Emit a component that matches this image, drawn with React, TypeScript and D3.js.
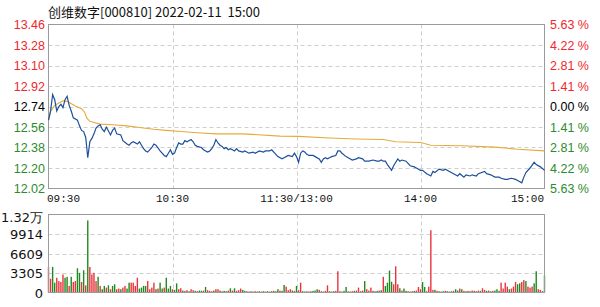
import React from "react";
import * as d3 from "d3";

const title = "创维数字[000810] 2022-02-11  15:00";
const prevClose = 12.74;
const priceTicks = [13.46, 13.28, 13.1, 12.92, 12.74, 12.56, 12.38, 12.2, 12.02];
const pctTicks = ["5.63 %", "4.22 %", "2.81 %", "1.41 %", "0.00 %", "1.41 %", "2.81 %", "4.22 %", "5.63 %"];
const volTicks = ["1.32万", "9914", "6609", "3305", "0"];
const volTickValues = [13219, 9914, 6609, 3305, 0];
const timeLabels = ["09:30", "10:30", "11:30/13:00", "14:00", "15:00"];
const timeLabelMinutes = [0, 60, 120, 180, 240];

// [minute, price]
const pricePts: [number, number][] = [
  [0, 12.62], [1, 12.7], [2, 12.845], [3, 12.8], [4, 12.7], [5, 12.74], [6, 12.76], [7, 12.73], [8, 12.8], [9, 12.83],
  [10, 12.75], [11, 12.7], [12, 12.64], [14, 12.62], [15, 12.57], [16, 12.53], [17, 12.52], [18, 12.47], [19, 12.29], [20, 12.43],
  [21, 12.46], [22, 12.5], [23, 12.55], [24, 12.57], [25, 12.58], [26, 12.54], [27, 12.52], [28, 12.56], [30, 12.49], [31, 12.53],
  [32, 12.55], [33, 12.5], [35, 12.49], [36, 12.44], [38, 12.41], [39, 12.4], [40, 12.42], [41, 12.43], [43, 12.41], [44, 12.43],
  [45, 12.4], [46, 12.37], [47, 12.35], [48, 12.34], [50, 12.38], [51, 12.41], [52, 12.4], [54, 12.35], [56, 12.31], [57, 12.3],
  [58, 12.33], [59, 12.36], [60, 12.32], [61, 12.33], [62, 12.38], [63, 12.42], [64, 12.41], [65, 12.41], [66, 12.44], [67, 12.43],
  [69, 12.45], [70, 12.43], [71, 12.4], [72, 12.39], [74, 12.38], [75, 12.36], [76, 12.35], [77, 12.34], [78, 12.35], [79, 12.37],
  [80, 12.4], [81, 12.45], [82, 12.42], [83, 12.4], [84, 12.39], [85, 12.37], [86, 12.38], [87, 12.36], [88, 12.37], [89, 12.36],
  [90, 12.35], [91, 12.37], [92, 12.35], [94, 12.34], [95, 12.35], [97, 12.33], [99, 12.34], [100, 12.33], [102, 12.35], [104, 12.34],
  [105, 12.35], [107, 12.35], [108, 12.36], [110, 12.32], [111, 12.3], [113, 12.28], [114, 12.29], [116, 12.31], [118, 12.3], [119, 12.33],
  [120, 12.3], [121, 12.25], [122, 12.33], [123, 12.35], [124, 12.34], [125, 12.32], [126, 12.31], [128, 12.31], [129, 12.3], [131, 12.28],
  [132, 12.25], [133, 12.28], [134, 12.29], [135, 12.28], [136, 12.29], [137, 12.3], [139, 12.31], [140, 12.35], [141, 12.35], [142, 12.33],
  [144, 12.3], [145, 12.29], [147, 12.27], [149, 12.28], [150, 12.29], [152, 12.28], [153, 12.26], [155, 12.26], [157, 12.27], [159, 12.26],
  [160, 12.26], [161, 12.27], [162, 12.26], [163, 12.26], [164, 12.23], [166, 12.18], [167, 12.22], [169, 12.28], [170, 12.26], [171, 12.27],
  [173, 12.26], [175, 12.22], [177, 12.21], [178, 12.2], [180, 12.18], [181, 12.18], [183, 12.15], [185, 12.13], [186, 12.17], [187, 12.16],
  [189, 12.19], [191, 12.18], [192, 12.19], [194, 12.17], [196, 12.15], [198, 12.13], [199, 12.15], [201, 12.12], [202, 12.14], [204, 12.13],
  [205, 12.14], [207, 12.13], [208, 12.15], [211, 12.17], [212, 12.15], [214, 12.14], [216, 12.12], [218, 12.12], [219, 12.11], [221, 12.1],
  [222, 12.1], [224, 12.11], [226, 12.1], [227, 12.09], [229, 12.07], [230, 12.12], [231, 12.16], [233, 12.2], [235, 12.25], [236, 12.23],
  [238, 12.21], [240, 12.18],
];

// [minute, average price]
const avgPts: [number, number][] = [
  [0, 12.62], [1, 12.7], [3, 12.75], [5, 12.77], [7, 12.79], [9, 12.785], [10, 12.775], [13, 12.745], [16, 12.72], [17.5, 12.69],
  [18.5, 12.64], [20, 12.61], [22, 12.6], [25, 12.585], [31, 12.58], [38, 12.57], [44, 12.555], [51, 12.54], [57, 12.53], [64, 12.52],
  [72, 12.51], [81, 12.5], [94, 12.5], [112, 12.48], [121, 12.478], [136, 12.463], [149, 12.454], [162, 12.45], [168, 12.43], [180, 12.424],
  [185, 12.4], [200, 12.395], [216, 12.383], [227, 12.365], [240, 12.35],
];

// volume per minute (0..240)
const volumes = [
  4330, 2330, 4330, 1665, 2500, 1940, 1775, 3050, 2500, 2660,
  1110, 2660, 1775, 1940, 4100, 3330, 1775, 3770, 1200, 12210,
  4330, 3050, 3330, 1940, 2660, 1110, 555, 1110, 830, 1220,
  555, 1110, 1390, 555, 670, 555, 830, 1110, 670, 1665,
  1665, 1665, 1110, 2500, 670, 830, 1110, 1110, 1940, 555,
  830, 1665, 555, 670, 1665, 670, 830, 2500, 670, 1110,
  555, 440, 1550, 555, 720, 330, 280, 390, 220, 555,
  390, 280, 220, 330, 280, 330, 940, 390, 280, 220,
  330, 555, 555, 330, 220, 280, 220, 330, 720, 330,
  720, 280, 390, 670, 440, 280, 220, 170, 220, 170,
  220, 170, 220, 170, 220, 170, 220, 170, 220, 280,
  220, 555, 330, 280, 1280, 1000, 390, 555, 330, 280,
  1110, 390, 1665, 220, 170, 220, 170, 220, 280, 330,
  555, 440, 220, 170, 280, 1220, 220, 170, 220, 280,
  3600, 220, 170, 280, 940, 220, 170, 220, 280, 330,
  830, 220, 330, 1940, 555, 330, 830, 280, 220, 280,
  330, 390, 2660, 1110, 1665, 3720, 1830, 1390, 4440, 1390,
  720, 330, 670, 280, 220, 170, 220, 280, 330, 940,
  555, 1780, 940, 220, 1000, 10545, 440, 440, 280, 220,
  170, 220, 280, 220, 170, 220, 280, 555, 330, 670,
  555, 280, 220, 280, 220, 330, 280, 220, 330, 280,
  720, 440, 280, 330, 220, 280, 330, 555, 280, 1665,
  670, 1665, 1000, 555, 670, 1000, 1780, 1390, 1550, 1780,
  2110, 1940, 1000, 830, 1000, 1550, 3600, 555, 440, 220,
  2885,
];
const volColors =
  "rrggrrrrgg" + "rgrrggrgrg" + "rrrrgrggrg" + "rggrrgrrgg" + "rrrrggggrr" +
  "rrgrggrggg" + "rggrrgrrgr" + "rgrggrgrrr" + "grrgrggrgr" + "grrrggrgrg" +
  "rgrggrgrgr" + "ggrggrrrgr" + "grrggrgrgg" + "grrgrrgrgr" + "rrgggrgrgr" +
  "rgrgrrrgrg" + "rgrggggrrr" + "grggrgrgrr" + "rggrrrrgrg" + "rgrgrgrggr" +
  "grgrgrgrrg" + "rrgrgrgggr" + "rrrgrrrggr" + "rgrrrggrrg" + "g";

const W = 600;
const H = 307;
const L = 48.5;
const R = 544.5;
const pTop = 24.5;
const pBot = 188.5;
const vTop = 214.5;
const vBot = 292.5;

const RED = "#f0282d";
const GREEN = "#2c8c2c";

export default function App() {
  const x = d3.scaleLinear().domain([0, 240]).range([L, R]);
  const y = d3.scaleLinear().domain([12.02, 13.46]).range([pBot, pTop]);
  const yv = d3.scaleLinear().domain([0, 13219]).range([vBot, vTop]);
  const line = d3
    .line<[number, number]>()
    .x((d) => x(d[0]))
    .y((d) => y(d[1]));

  const labelColor = (v: number) =>
    Math.abs(v - prevClose) < 1e-6 ? "#000" : v > prevClose ? RED : GREEN;

  const vGrid = [60, 120, 180];
  const fontNum = "'Liberation Sans', Arial, sans-serif";

  return (
    <svg
      width={W}
      height={H}
      style={{ position: "absolute", left: 0, top: 0, background: "#fff" }}
    >
      <text
        x={48}
        y={16.5}
        fontFamily="'Noto Sans CJK SC', sans-serif"
        fontSize={13}
        fill="#111"
        style={{ whiteSpace: "pre" }}
      >
        {title}
      </text>

      {/* price grid */}
      {priceTicks.slice(1, -1).map((t, i) => (
        <line
          key={"hg" + i}
          x1={L}
          x2={R}
          y1={Math.round(y(t)) + 0.5}
          y2={Math.round(y(t)) + 0.5}
          stroke="#cfcfcf"
          strokeDasharray="4,3"
        />
      ))}
      {vGrid.map((m, i) => (
        <line
          key={"vg" + i}
          x1={Math.round(x(m)) + 0.5}
          x2={Math.round(x(m)) + 0.5}
          y1={pTop}
          y2={pBot}
          stroke="#cfcfcf"
          strokeDasharray="4,3"
        />
      ))}
      <rect x={L} y={pTop} width={R - L} height={pBot - pTop} fill="none" stroke="#9a9a9a" />

      {/* price labels */}
      {priceTicks.map((t, i) => (
        <text
          key={"pl" + i}
          x={45}
          y={y(t) + 4.5}
          textAnchor="end"
          fontFamily={fontNum}
          fontSize={12.5}
          fill={labelColor(t)}
        >
          {t.toFixed(2)}
        </text>
      ))}
      {pctTicks.map((t, i) => (
        <text
          key={"pc" + i}
          x={550}
          y={y(priceTicks[i]) + 4.5}
          fontFamily={fontNum}
          fontSize={12.5}
          fill={labelColor(priceTicks[i])}
        >
          {t}
        </text>
      ))}

      {/* lines */}
      <path d={line(avgPts) || ""} fill="none" stroke="#e6aa3c" strokeWidth={1.1} />
      <path d={line(pricePts) || ""} fill="none" stroke="#1d4f9a" strokeWidth={1.2} />

      {/* time labels */}
      {timeLabels.map((t, i) => (
        <text
          key={"tl" + i}
          x={i === 0 ? 47 : i === timeLabels.length - 1 ? 544 : x(timeLabelMinutes[i])}
          y={202}
          textAnchor={i === 0 ? "start" : i === timeLabels.length - 1 ? "end" : "middle"}
          fontFamily="'Liberation Mono', 'DejaVu Sans Mono', monospace"
          fontSize={11}
          fill="#111"
        >
          {t}
        </text>
      ))}

      {/* volume grid */}
      {volTickValues.slice(1, -1).map((v, i) => (
        <line
          key={"vh" + i}
          x1={L}
          x2={R}
          y1={Math.round(yv(v)) + 0.5}
          y2={Math.round(yv(v)) + 0.5}
          stroke="#cfcfcf"
          strokeDasharray="4,3"
        />
      ))}
      {vGrid.map((m, i) => (
        <line
          key={"vv" + i}
          x1={Math.round(x(m)) + 0.5}
          x2={Math.round(x(m)) + 0.5}
          y1={vTop}
          y2={vBot}
          stroke="#cfcfcf"
          strokeDasharray="4,3"
        />
      ))}

      {/* volume bars */}
      {volumes.map((v, i) => (
        <rect
          key={"vb" + i}
          x={x(i) - 0.7}
          y={yv(v)}
          width={1.4}
          height={vBot - yv(v)}
          fill={volColors[i] === "r" ? "#e8343c" : "#1f8a1f"}
        />
      ))}
      <rect x={L} y={vTop} width={R - L} height={vBot - vTop} fill="none" stroke="#9a9a9a" />

      {volTicks.map((t, i) => (
        <text
          key={"vl" + i}
          x={43}
          y={i === 0 ? 221.5 : yv(volTickValues[i]) + 5}
          textAnchor="end"
          fontFamily="'DejaVu Sans', sans-serif"
          fontSize={13}
          fill="#111"
        >
          {t}
        </text>
      ))}
    </svg>
  );
}
